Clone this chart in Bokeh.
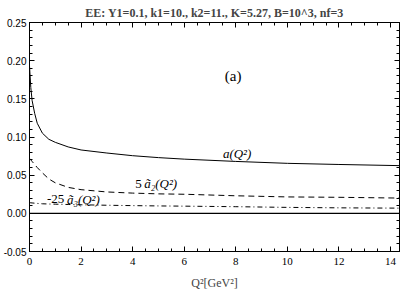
from bokeh.plotting import figure
from bokeh.models import (LinearAxis, FixedTicker, Span, Label, Range1d, PrintfTickFormatter,
                          CustomLabelingPolicy, CustomJSTickFormatter)
from bokeh.embed import file_html
from bokeh.resources import INLINE

# Q^2 sample points [GeV^2]
q2 = [0.0, 0.05, 0.1, 0.2, 0.3, 0.5, 0.75, 1.0, 1.5, 2.0, 3.0, 4.0, 5.0, 6.0, 8.0, 10.0, 12.0, 14.35]
# a(Q^2)
a_vals = [0.193, 0.165, 0.148, 0.131, 0.118, 0.105, 0.097, 0.093, 0.087, 0.083, 0.079, 0.0755,
          0.073, 0.071, 0.068, 0.0655, 0.064, 0.0625]
# 5 * a2~(Q^2)
a2_5 = [0.072, 0.070, 0.068, 0.064, 0.060, 0.053, 0.045, 0.040, 0.034, 0.031, 0.028, 0.0265,
        0.0255, 0.025, 0.023, 0.0215, 0.021, 0.020]
# -25 * a3~(Q^2)
a3_m25 = [0.014, 0.0138, 0.0136, 0.0133, 0.013, 0.0125, 0.0122, 0.012, 0.0116, 0.0112, 0.0106,
          0.0101, 0.0097, 0.0094, 0.0087, 0.0078, 0.0072, 0.0068]

x_major = [0, 2, 4, 6, 8, 10, 12, 14]
x_minor = [i * 0.5 for i in range(0, 29)]
y_major = [-0.05, 0.0, 0.05, 0.10, 0.15, 0.20, 0.25]
y_minor = [round(-0.05 + i * 0.01, 2) for i in range(0, 31)]

title_text = "EE: Y1=0.1, k1=10., k2=11., K=5.27, B=10^3, nf=3"

p = figure(width=401, height=292, output_backend="svg", toolbar_location=None,
           x_range=Range1d(0, 14.35), y_range=Range1d(-0.05, 0.25),
           min_border_left=27, min_border_right=2, min_border_top=17, min_border_bottom=0,
           title=title_text)
p.title.align = "center"
p.title.text_font = "Liberation Serif"
p.title.text_font_size = "12px"
p.title.text_font_style = "bold"
p.title.standoff = 6
p.grid.visible = False
p.outline_line_color = "black"
p.outline_line_alpha = 1.0
p.background_fill_color = "white"
p.border_fill_color = "white"

xt = FixedTicker(ticks=x_major, minor_ticks=x_minor)
yt = FixedTicker(ticks=y_major, minor_ticks=y_minor)

def style(ax):
    ax.axis_line_color = "black"
    ax.major_tick_line_color = "black"
    ax.minor_tick_line_color = "black"
    ax.major_tick_in = 5
    ax.major_tick_out = 0
    ax.minor_tick_in = 3
    ax.minor_tick_out = 0

xa = p.xaxis[0]
xa.ticker = xt
style(xa)
xa.major_label_text_font = "Liberation Serif"
xa.major_label_text_font_size = "11px"
xa.major_label_text_color = "black"
xa.major_label_standoff = 6
xa.axis_label = "Q²[GeV²]"
xa.axis_label_text_font = "Liberation Serif"
xa.axis_label_text_font_size = "12px"
xa.axis_label_text_font_style = "normal"
xa.axis_label_standoff = 8

ya = p.yaxis[0]
ya.ticker = yt
style(ya)
ya.formatter = PrintfTickFormatter(format="%.2f")
ya.major_label_text_font = "Liberation Sans"
ya.major_label_text_font_size = "10px"
ya.major_label_text_color = "black"
ya.major_label_standoff = 3

hide_code = """
try { indices.clear(); } catch (e) { for (const i of [...indices]) { indices.unset(i); } }
return indices;
"""

def hidden_axis():
    ax = LinearAxis(ticker=FixedTicker(ticks=x_major, minor_ticks=x_minor))
    style(ax)
    ax.formatter = CustomJSTickFormatter(code="return ''")
    ax.major_label_policy = CustomLabelingPolicy(code=hide_code)
    ax.major_label_standoff = 0
    ax.major_label_text_font_size = "1px"
    return ax

top = hidden_axis()
p.add_layout(top, "above")

right = hidden_axis()
right.ticker = FixedTicker(ticks=y_major, minor_ticks=y_minor)
p.add_layout(right, "right")

p.add_layout(Span(location=0, dimension="width", line_color="black", line_width=1.2))

p.line(q2, a_vals, line_color="black", line_width=1)
p.line(q2, a2_5, line_color="black", line_width=1, line_dash="6 4")
p.line(q2, a3_m25, line_color="black", line_width=1, line_dash="5 3 1 3")

def lab(x, y, t, size="13px", style="normal", align="left"):
    p.add_layout(Label(x=x, y=y, text=t, text_font="Liberation Serif", text_font_size=size,
                       text_font_style=style, text_align=align, text_baseline="middle",
                       text_color="black"))

lab(7.9, 0.180, "(a)", size="15px", align="center")
lab(7.5, 0.079, "a(Q²)", style="italic")
lab(4.35, 0.0388, "5", style="normal", align="right")
lab(4.45, 0.0388, "ã₂(Q²)", style="italic")
lab(1.35, 0.0186, "-25", style="normal", align="right")
lab(1.45, 0.0186, "ã₃(Q²)", style="italic")

open("out.html", "w").write(file_html(p, INLINE))
